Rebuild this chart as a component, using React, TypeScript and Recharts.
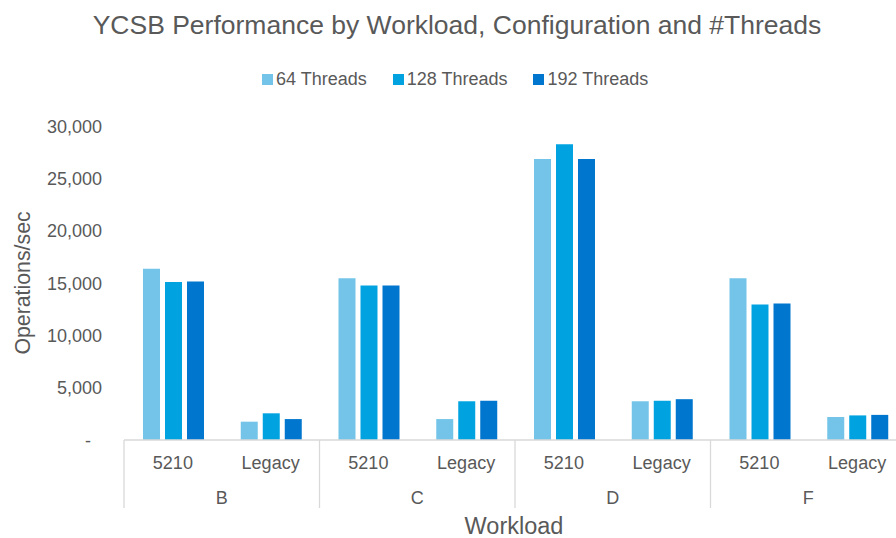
import React from "react";
import { BarChart, Bar, XAxis, YAxis, Label } from "recharts";

// x-axis: two levels, configuration inside workload
const configs = ["5210", "Legacy", "5210", "Legacy", "5210", "Legacy", "5210", "Legacy"];
const workloads = ["B", "B", "C", "C", "D", "D", "F", "F"];

// operations/sec per thread count
const threads64 = [16350, 1750, 15450, 2000, 26850, 3700, 15450, 2200];
const threads128 = [15100, 2550, 14750, 3700, 28250, 3750, 12950, 2350];
const threads192 = [15150, 2000, 14750, 3750, 26850, 3900, 13050, 2400];

const yTicks = [0, 5000, 10000, 15000, 20000, 25000, 30000];

const seriesNames = ["64 Threads", "128 Threads", "192 Threads"];
const seriesColors = ["#73C4E8", "#00A3E0", "#0076CE"];

const data = configs.map((config, i) => ({
  config,
  workload: workloads[i],
  t64: threads64[i],
  t128: threads128[i],
  t192: threads192[i],
}));

const FONT = '"Liberation Sans", Arial, sans-serif';
const TEXT = "#595959";
const LINE = "#d9d9d9";

const YTick = ({ x, y, payload }: any) => {
  const v = payload.value as number;
  return (
    <text
      x={v === 0 ? x - 11 : x}
      y={y}
      dy={6.5}
      textAnchor="end"
      fill={TEXT}
      fontSize={18}
      fontFamily={FONT}
    >
      {v === 0 ? "-" : v.toLocaleString("en-US")}
    </text>
  );
};

const XTick = ({ x, y, payload }: any) => {
  const i = payload.index as number;
  const half = payload.offset || 48.9;
  const top = y - 8;
  const first = i % 2 === 0;
  const last = i === data.length - 1;
  return (
    <g>
      <text x={x} y={top + 29} textAnchor="middle" fill={TEXT} fontSize={18} fontFamily={FONT}>
        {payload.value}
      </text>
      {first && (
        <>
          <line x1={x - half} x2={x - half} y1={top} y2={top + 68} stroke={LINE} strokeWidth={1.3} />
          <text x={x + half} y={top + 64} textAnchor="middle" fill={TEXT} fontSize={18} fontFamily={FONT}>
            {workloads[i]}
          </text>
        </>
      )}
      {last && <line x1={x + half} x2={x + half} y1={top} y2={top + 68} stroke={LINE} strokeWidth={1.3} />}
    </g>
  );
};

const YTitle = ({ viewBox }: any) => {
  const cy = viewBox.y + viewBox.height / 2;
  return (
    <text
      x={30}
      y={cy}
      transform={`rotate(-90 30 ${cy})`}
      textAnchor="middle"
      fill={TEXT}
      fontSize={21.3}
      fontFamily={FONT}
    >
      Operations/sec
    </text>
  );
};

const XTitle = ({ viewBox }: any) => (
  <text x={514} y={viewBox.y + viewBox.height - 4} textAnchor="middle" fill={TEXT} fontSize={23.5} fontFamily={FONT}>
    Workload
  </text>
);

export default function App() {
  return (
    <div
      style={{
        position: "fixed",
        left: 0,
        top: 0,
        width: 896,
        height: 538,
        overflow: "hidden",
        background: "#fff",
        fontFamily: FONT,
      }}
    >
      <div
        style={{
          position: "absolute",
          left: 0,
          top: 10,
          width: 914,
          textAlign: "center",
          fontSize: 26.5,
          lineHeight: "30px",
          color: TEXT,
        }}
      >
        YCSB Performance by Workload, Configuration and #Threads
      </div>
      <div
        style={{
          position: "absolute",
          left: 262,
          top: 68,
          display: "flex",
          alignItems: "center",
          fontSize: 18,
          lineHeight: "22px",
          color: TEXT,
        }}
      >
        {seriesNames.map((name, i) => (
          <div key={name} style={{ display: "flex", alignItems: "center", marginRight: 26 }}>
            <span style={{ width: 11, height: 11, background: seriesColors[i], marginRight: 3 }} />
            <span>{name}</span>
          </div>
        ))}
      </div>
      <BarChart
        width={910}
        height={538}
        data={data}
        margin={{ top: 126, right: 4, bottom: 0, left: 0 }}
        barCategoryGap={19}
        barGap={5}
      >
        <XAxis
          dataKey="config"
          height={98}
          axisLine={{ stroke: LINE, strokeWidth: 1.3 }}
          tickLine={false}
          tick={<XTick />}
          interval={0}
        >
          <Label content={<XTitle />} />
        </XAxis>
        <YAxis
          width={124}
          domain={[0, 30000]}
          ticks={yTicks}
          axisLine={false}
          tickLine={false}
          tickMargin={16}
          tick={<YTick />}
        >
          <Label content={<YTitle />} />
        </YAxis>
        <Bar dataKey="t64" name={seriesNames[0]} fill={seriesColors[0]} isAnimationActive={false} />
        <Bar dataKey="t128" name={seriesNames[1]} fill={seriesColors[1]} isAnimationActive={false} />
        <Bar dataKey="t192" name={seriesNames[2]} fill={seriesColors[2]} isAnimationActive={false} />
      </BarChart>
    </div>
  );
}
